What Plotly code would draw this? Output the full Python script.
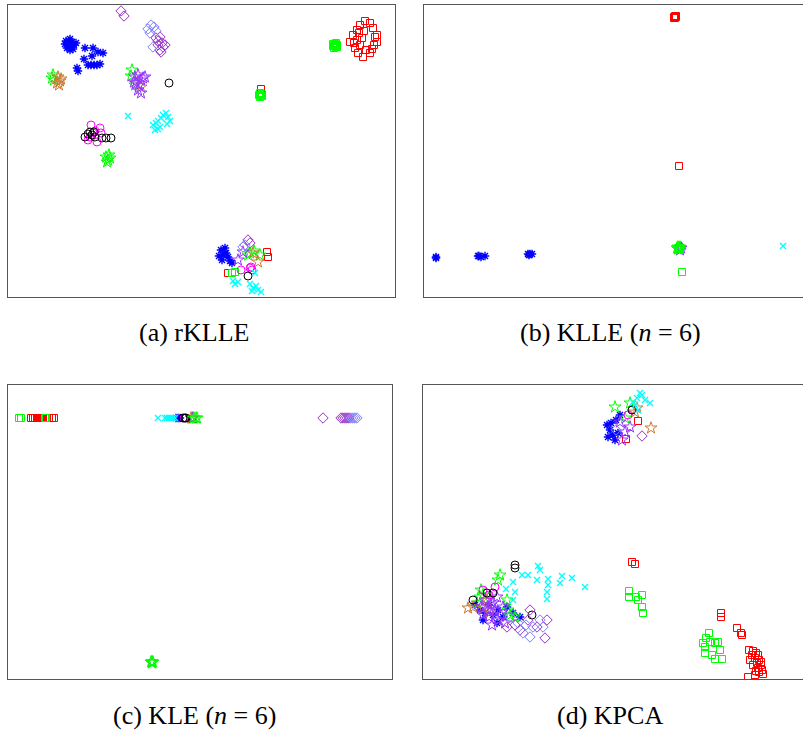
import plotly.graph_objects as go

W, H = 803, 732

# ---- class styles ----
CLASSES = ["blue", "red", "gsq", "gstar", "ostar", "pstar", "mag", "blk", "cyan", "pdia", "ldia"]
SYMBOLS = {"blue": "asterisk-open", "red": "square-open", "gsq": "square-open", "gstar": "star-open",
           "ostar": "star-open", "pstar": "star-open", "mag": "circle-open", "blk": "circle-open",
           "cyan": "x-thin-open", "pdia": "diamond-open", "ldia": "diamond-open"}
COLORS = {"blue": "#0000ff", "red": "#ff0000", "gsq": "#00ff00", "gstar": "#00ff00", "ostar": "#cc7a33",
          "pstar": "#9933ff", "mag": "#ff00ff", "blk": "#000000", "cyan": "#00ffff", "pdia": "#9932cc",
          "ldia": "#8080ff"}
SIZES = {"blue": 7, "red": 7, "gsq": 7, "gstar": 9, "ostar": 9, "pstar": 9, "mag": 8, "blk": 8,
         "cyan": 6, "pdia": 8, "ldia": 8}

# ---- panel (a) rKLLE ----
A_BLUE = [(58,36),(60,38),(62,34),(64,37),(66,40),(63,42),(60,41),(68,38),(57,39),(62,45),(65,44),(61,36),(59,43),
          (77,43),(85,43),(90,47),(95,48),(76,54),(84,51),(80,60),(83,60),(86,60),(89,60),(92,59),(69,63),(70,66),
          (213,245),(215,250),(218,248),(220,252),(214,255),(222,256),(217,243),(224,258),(211,251)]
A_RED = [(357,16),(362,18),(352,20),(349,25),(365,23),(367,32),(369,37),(366,40),(345,30),(342,37),(347,43),(350,48),
         (355,52),(362,48),(354,33),(352,40),(349,35),(356,26),(358,45),(346,38),(369,30),(351,28),(364,44),
         (253,84),(259,247),(260,252),(220,268)]
A_GSQ = [(326,40),(327,41),(328,42),(327,39),(325,41),(329,40),(326,43),(328,38),(325,39),(329,42),
         (252,88),(253,91),(251,90),(254,89),(252,92),(254,91),(224,268),(227,267)]
A_GSTAR = [(45,70),(46,75),(44,73),(124,65),(123,71),(127,80),(98,152),(100,155),(102,153),(99,157),(101,150),
           (242,248),(252,250),(240,250),(246,246)]
A_OSTAR = [(50,72),(52,76),(51,80),(53,74),(49,78),(133,82),(245,248),(250,257)]
A_PSTAR = [(127,72),(130,70),(133,75),(128,78),(131,80),(135,73),(137,72),(130,85),(133,88),(126,77),(230,255),(235,247)]
A_MAG = [(83,120),(92,123),(93,128),(82,132),(80,135),(89,137),(85,128),(87,126),(233,265),(242,263),(244,265),(243,262)]
A_BLK = [(77,132),(82,127),(86,127),(87,132),(94,133),(98,133),(103,133),(80,129),(84,130),(161,78),(240,271)]
A_CYAN = [(120,111),(145,120),(148,118),(150,116),(152,122),(155,110),(158,108),(160,112),(162,116),(159,119),
          (150,124),(147,125),(153,113),(225,276),(227,279),(230,277),(242,279),(245,283),(248,281),(250,285),
          (253,287),(247,268),(244,286)]
A_PDIA = [(113,6),(116,11),(148,33),(150,36),(152,32),(154,38),(155,42),(152,45),(157,40),(150,40),(153,47),
          (240,235),(242,238)]
A_LDIA = [(140,24),(143,20),(146,22),(148,26),(142,28),(145,42),(235,242),(237,240)]

# ---- panel (b) KLLE (n=6) ----
B_BLUE = [(12,253),(12,252),(54,251),(55,251),(57,252),(61,251),(104,249),(106,249),(108,249),(105,250)]
B_RED = [(251,12),(251,11),(252,12),(251,13),(250,12),(252,11),(250,13),(255,161)]
B_GSQ = [(258,267),(256,243)]
B_GSTAR = [(255,243),(254,244),(256,242),(253,243),(254,242),(256,244)]
B_OSTAR = [(255,243)]
B_PSTAR = [(257,243),(256,245)]
B_MAG = [(255,242)]
B_BLK = [(255,242)]
B_CYAN = [(359,241)]
B_PDIA = [(257,242)]
B_LDIA = [(257,244)]

# ---- panel (c) KLE (n=6) ----
C_BLUE = [(168,33),(170,33),(172,33)]
C_RED = [(23,33),(25,33),(27,33),(29,33),(31,33),(33,33),(35,33),(39,33),(41,33),(44,33),(46,33)]
C_GSQ = [(11,33),(13,33),(37,33),(38,33)]
C_GSTAR = [(186,33),(188,33),(189,33),(144,277),(144,278),(145,277),(143,277)]
C_OSTAR = [(183,33),(184,33)]
C_PSTAR = [(185,33),(144,277)]
C_MAG = [(176,33)]
C_BLK = [(175,33),(177,33),(178,33)]
C_CYAN = [(150,33),(157,33),(159,33),(161,33),(163,33),(165,33),(167,33)]
C_PDIA = [(315,33),(333,33),(335,33),(337,33),(339,33),(341,33)]
C_LDIA = [(343,33),(345,33),(347,33),(349,33)]

# ---- panel (d) KPCA ----
D_BLUE = [(184,40),(187,45),(190,50),(185,52),(192,55),(195,48),(188,38),(197,30),(193,35),
          (57,225),(75,225),(74,238),(97,232),(84,222),(62,228),(70,230),(52,220),(66,220),(80,232),(90,228),(60,235)]
D_RED = [(215,36),(203,54),(209,177),(212,179),(298,228),(298,232),(314,243),(318,248),(319,250),
         (326,265),(330,266),(333,268),(335,270),(332,273),(336,275),(334,278),(338,280),(335,283),(339,285),
         (336,287),(340,289),(327,275),(330,280),(333,286),(325,292),(332,290),(338,277),(329,270)]
D_GSQ = [(206,206),(206,212),(219,210),(213,212),(215,215),(219,222),(220,228),
         (286,248),(283,253),(280,258),(282,262),(287,257),(292,258),(295,257),(297,265),(282,268),(289,270),
         (292,274),(299,274)]
D_GSTAR = [(192,22),(207,18),(202,33),(77,190),(75,195),(57,212),(54,218),(84,215),(85,225),(87,230),(92,232),
           (58,205),(60,210)]
D_OSTAR = [(214,23),(228,43),(212,27),(45,223),(50,222),(60,223),(67,227),(64,215)]
D_PSTAR = [(197,37),(207,42),(199,55),(202,47),(62,215),(68,220),(72,225),(78,230),(66,232),(75,235),(82,238),
           (70,218),(65,225),(58,222),(74,212),(80,222),(69,240),(60,230)]
D_MAG = [(209,25),(205,30),(72,202),(60,205),(66,210)]
D_BLK = [(209,25),(92,180),(92,183),(50,215),(64,208),(70,208),(109,230)]
D_CYAN = [(214,13),(219,10),(222,15),(227,18),(212,20),(215,25),(217,8),(210,17),
          (115,181),(117,185),(99,190),(105,190),(114,195),(125,194),(139,191),(149,193),(162,202),(125,200),
          (124,207),(124,214),(137,198),(90,197),(83,204),(92,207),(90,215)]
D_PDIA = [(219,51),(84,242),(92,240),(97,245),(107,225),(105,235),(114,242),(124,235),(122,253)]
D_LDIA = [(193,45),(87,232),(100,248),(107,252),(110,242),(117,235),(120,242),(95,238),(103,240)]

ORDER_DEFAULT = CLASSES
ORDER_GREEN_TOP = ["blue", "red", "ostar", "pstar", "mag", "blk", "cyan", "pdia", "ldia", "gsq", "gstar"]

PANELS = [
    dict(data=dict(zip(CLASSES, [A_BLUE, A_RED, A_GSQ, A_GSTAR, A_OSTAR, A_PSTAR, A_MAG, A_BLK, A_CYAN, A_PDIA, A_LDIA])),
         order=ORDER_DEFAULT, px=(8, 395), py=(5, 297), xr=(0, 387), yr=(292, 0), right=True,
         caption="(a) rKLLE", cap=(194, 332)),
    dict(data=dict(zip(CLASSES, [B_BLUE, B_RED, B_GSQ, B_GSTAR, B_OSTAR, B_PSTAR, B_MAG, B_BLK, B_CYAN, B_PDIA, B_LDIA])),
         order=ORDER_GREEN_TOP, px=(424, 803), py=(5, 297), xr=(0, 379), yr=(292, 0), right=False,
         caption="(b) KLLE (<i>n</i> = 6)", cap=(610, 332)),
    dict(data=dict(zip(CLASSES, [C_BLUE, C_RED, C_GSQ, C_GSTAR, C_OSTAR, C_PSTAR, C_MAG, C_BLK, C_CYAN, C_PDIA, C_LDIA])),
         order=ORDER_GREEN_TOP, px=(8, 392), py=(385, 679), xr=(0, 384), yr=(294, 0), right=True,
         caption="(c) KLE (<i>n</i> = 6)", cap=(194, 715)),
    dict(data=dict(zip(CLASSES, [D_BLUE, D_RED, D_GSQ, D_GSTAR, D_OSTAR, D_PSTAR, D_MAG, D_BLK, D_CYAN, D_PDIA, D_LDIA])),
         order=ORDER_DEFAULT, px=(423, 803), py=(385, 679), xr=(0, 380), yr=(294, 0), right=False,
         caption="(d) KPCA", cap=(610, 715)),
]

fig = go.Figure()
layout = dict(width=W, height=H, margin=dict(l=0, r=0, t=0, b=0), showlegend=False,
              plot_bgcolor="white", paper_bgcolor="white")
annotations = []
for i, p in enumerate(PANELS):
    n = i + 1
    xa = "xaxis" if n == 1 else f"xaxis{n}"
    ya = "yaxis" if n == 1 else f"yaxis{n}"
    xref = "x" if n == 1 else f"x{n}"
    yref = "y" if n == 1 else f"y{n}"
    for cls in p["order"]:
        pts = p["data"][cls]
        fig.add_trace(go.Scatter(
            x=[q[0] for q in pts], y=[q[1] for q in pts], mode="markers", xaxis=xref, yaxis=yref,
            marker=dict(symbol=SYMBOLS[cls], size=SIZES[cls], color=COLORS[cls],
                        line=dict(width=1.4 if cls in ("blue", "cyan") else 1, color=COLORS[cls])),
            hoverinfo="skip"))
    layout[xa] = dict(domain=[p["px"][0] / W, p["px"][1] / W], range=list(p["xr"]), showgrid=False,
                      zeroline=False, showticklabels=False, ticks="", showline=True, mirror=True,
                      linecolor="#555555", linewidth=1, anchor=yref)
    layout[ya] = dict(domain=[1 - p["py"][1] / H, 1 - p["py"][0] / H], range=list(p["yr"]), showgrid=False,
                      zeroline=False, showticklabels=False, ticks="", showline=True, mirror=p["right"],
                      linecolor="#555555", linewidth=1, anchor=xref)
    annotations.append(dict(text=p["caption"], x=p["cap"][0] / W, y=1 - p["cap"][1] / H, xref="paper",
                            yref="paper", xanchor="center", yanchor="middle", showarrow=False,
                            font=dict(family="Liberation Serif", size=26, color="black")))
layout["annotations"] = annotations
fig.update_layout(**layout)
fig.write_html("out.html", config={"displayModeBar": False},
               post_script="document.body.style.margin='0';document.body.style.padding='0';")
